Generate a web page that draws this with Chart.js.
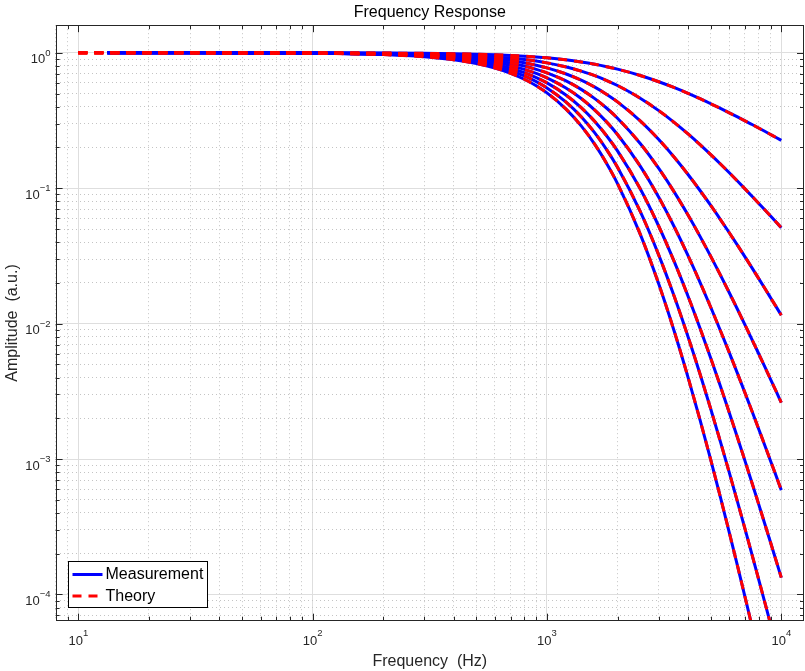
<!DOCTYPE html>
<html>
<head>
<meta charset="utf-8">
<script src="https://cdn.jsdelivr.net/npm/chart.js@4/dist/chart.umd.min.js"></script>
<style>
  html, body { margin: 0; padding: 0; background: #ffffff; }
  #wrap { width: 805px; height: 671px; }
</style>
</head>
<body>
<div id="wrap"><canvas id="c" width="805" height="671"></canvas></div>
<script>
// ---------------- data ----------------
const freqTheory = [10, 20, 50, 100, 200, 300, 400, 500, 600, 700, 800, 900, 1000, 1200, 1400, 1600, 1800, 2000, 2500, 3000, 3500, 4000, 4500, 5000, 5500, 6000, 6500, 7000, 7500, 8000, 8500, 9000, 9500, 10000];
const freqMeas   = [13.3, 20, 50, 100, 200, 300, 400, 500, 600, 700, 800, 900, 1000, 1200, 1400, 1600, 1800, 2000, 2500, 3000, 3500, 4000, 4500, 5000, 5500, 6000, 6500, 7000, 7500, 8000, 8500, 9000, 9500, 10000];

const amp1 = [1.000, 1.000, 0.9998, 0.9991, 0.9963, 0.9917, 0.9854, 0.9776, 0.9682, 0.9574, 0.9454, 0.9323, 0.9184, 0.8882, 0.8561, 0.8233, 0.7901, 0.7575, 0.6804, 0.6117, 0.5525, 0.5017, 0.4582, 0.4208, 0.3886, 0.3606, 0.3361, 0.3146, 0.2955, 0.2786, 0.2634, 0.2496, 0.2372, 0.2259];
const amp2 = [1.000, 1.000, 0.9995, 0.9981, 0.9926, 0.9835, 0.9711, 0.9556, 0.9374, 0.9166, 0.8937, 0.8692, 0.8434, 0.7889, 0.7331, 0.6777, 0.6242, 0.5737, 0.4627, 0.3742, 0.3053, 0.2517, 0.2100, 0.1772, 0.1511, 0.1301, 0.1130, 0.09897, 0.08733, 0.07758, 0.06935, 0.06231, 0.05627, 0.05105];
const amp3 = [1.000, 0.9999, 0.9993, 0.9972, 0.9890, 0.9754, 0.9570, 0.9342, 0.9076, 0.8776, 0.8449, 0.8104, 0.7745, 0.7007, 0.6276, 0.5579, 0.4932, 0.4345, 0.3148, 0.2289, 0.1686, 0.1263, 0.09623, 0.07459, 0.05870, 0.04690, 0.03798, 0.03113, 0.02581, 0.02161, 0.01826, 0.01555, 0.01335, 0.01154];
const amp4 = [1.000, 0.9999, 0.9991, 0.9963, 0.9853, 0.9673, 0.9431, 0.9132, 0.8787, 0.8402, 0.7988, 0.7556, 0.7113, 0.6224, 0.5374, 0.4593, 0.3897, 0.3292, 0.2141, 0.1400, 0.09318, 0.06335, 0.04409, 0.03139, 0.02282, 0.01692, 0.01277, 0.009796, 0.007627, 0.006018, 0.004806, 0.003882, 0.003168, 0.002608];
const amp5 = [1.000, 0.9998, 0.9989, 0.9954, 0.9817, 0.9593, 0.9293, 0.8927, 0.8507, 0.8044, 0.7551, 0.7045, 0.6532, 0.5528, 0.4601, 0.3781, 0.3079, 0.2493, 0.1456, 0.08566, 0.05148, 0.03179, 0.02020, 0.01321, 0.008868, 0.006104, 0.004292, 0.003082, 0.002254, 0.001676, 0.001266, 0.0009691, 0.0007515, 0.0005894];
const amp6 = [1.000, 0.9998, 0.9986, 0.9944, 0.9780, 0.9514, 0.9158, 0.8727, 0.8237, 0.7702, 0.7139, 0.6568, 0.5999, 0.4910, 0.3939, 0.3113, 0.2432, 0.1888, 0.09907, 0.05240, 0.02844, 0.01595, 0.009260, 0.005561, 0.003447, 0.002201, 0.001443, 0.0009695, 0.0006661, 0.0004668, 0.0003332, 0.0002419, 0.0001783, 0.0001332];
const amp7 = [1.000, 0.9997, 0.9984, 0.9935, 0.9744, 0.9435, 0.9025, 0.8531, 0.7975, 0.7374, 0.6749, 0.6124, 0.5509, 0.4361, 0.3373, 0.2563, 0.1922, 0.1430, 0.06740, 0.03206, 0.01571, 0.008003, 0.004243, 0.002340, 0.001339, 0.0007937, 0.0004851, 0.0003050, 0.0001968, 0.0001300, 0.0000877, 0.0000604, 0.0000423, 0.0000301];
const amp8 = [0.9999, 0.9997, 0.9982, 0.9926, 0.9708, 0.9357, 0.8894, 0.8340, 0.7721, 0.7060, 0.6380, 0.5709, 0.5059, 0.3874, 0.2887, 0.2110, 0.1518, 0.1083, 0.04585, 0.01961, 0.008684, 0.004016, 0.001944, 0.000985, 0.0005206, 0.0002862, 0.0001631, 0.0000960, 0.0000582, 0.0000362, 0.0000231, 0.0000151, 0.0000100, 0.0000068];

const curves = [amp1, amp2, amp3, amp4, amp5, amp6, amp7, amp8];

// tick labels: base "10" with an exponent written as superscript
const xMajorTicks = [10, 100, 1000, 10000];
const xTickExponents = ['1', '2', '3', '4'];
const yMajorTicks = [0.0001, 0.001, 0.01, 0.1, 1];
const yTickExponents = ['\u22124', '\u22123', '\u22122', '\u22121', '0'];
const tickBase = '10';

const xRange = [8, 12500];
const yRange = [6.4e-5, 1.6];

const seriesNames = ['Measurement', 'Theory'];
const titleText = 'Frequency Response';
const xTitle = 'Frequency  (Hz)';
const yTitle = 'Amplitude  (a.u.)';

// ---------------- helpers ----------------
const FONT = "'Liberation Sans', Arial, 'DejaVu Sans', sans-serif";
const BLUE = '#0000ff';
const RED = '#ff0000';
const DASH = [9, 7];

function logTicks(min, max) {
  const out = [];
  const e0 = Math.floor(Math.log10(min)), e1 = Math.ceil(Math.log10(max));
  for (let e = e0; e <= e1; e++) {
    for (let m = 1; m <= 9; m++) {
      const v = Number((m * Math.pow(10, e)).toPrecision(6));
      if (v >= min * 0.999999 && v <= max * 1.000001) out.push(v);
    }
  }
  return out;
}
function isMajorOf(v, majors) {
  return majors.some(mj => Math.abs(Math.log10(v) - Math.log10(mj)) < 1e-9);
}
function pts(xs, ys) { return xs.map((x, i) => ({ x: x, y: ys[i] })); }

// ---------------- datasets ----------------
const datasets = [];
curves.forEach((c, k) => {
  datasets.push({
    label: seriesNames[0] + ' ' + (k + 1),
    data: pts(freqMeas, c),
    borderColor: BLUE,
    borderWidth: 3,
    pointRadius: 0,
    fill: false,
    cubicInterpolationMode: 'monotone',
    order: 2
  });
});
curves.forEach((c, k) => {
  datasets.push({
    label: seriesNames[1] + ' ' + (k + 1),
    data: pts(freqTheory, c),
    borderColor: RED,
    borderWidth: 3,
    borderDash: DASH,
    pointRadius: 0,
    fill: false,
    cubicInterpolationMode: 'monotone',
    order: 1
  });
});

// ---------------- axes box, inward ticks, tick labels, legend ----------------
const matlabAxes = {
  id: 'matlabAxes',
  afterDatasetsDraw(chart) {
    const ctx = chart.ctx;
    const a = chart.chartArea;
    const xs = chart.scales.x, ys = chart.scales.y;
    ctx.save();
    ctx.strokeStyle = '#262626';
    ctx.lineWidth = 1;
    // inward ticks
    ctx.beginPath();
    xs.ticks.forEach(t => {
      const px = Math.round(xs.getPixelForValue(t.value)) + 0.5;
      const L = isMajorOf(t.value, xMajorTicks) ? 7 : 4;
      ctx.moveTo(px, a.bottom); ctx.lineTo(px, a.bottom - L);
      ctx.moveTo(px, a.top); ctx.lineTo(px, a.top + L);
    });
    ys.ticks.forEach(t => {
      const py = Math.round(ys.getPixelForValue(t.value)) + 0.5;
      const L = isMajorOf(t.value, yMajorTicks) ? 7 : 4;
      ctx.moveTo(a.left, py); ctx.lineTo(a.left + L, py);
      ctx.moveTo(a.right, py); ctx.lineTo(a.right - L, py);
    });
    ctx.stroke();
    // box
    ctx.strokeRect(Math.round(a.left) + 0.5, Math.round(a.top) + 0.5,
                   Math.round(a.right) - Math.round(a.left) - 1, Math.round(a.bottom) - Math.round(a.top) - 1);

    // tick labels 10^n
    const baseFont = '13px ' + FONT, expFont = '9.5px ' + FONT;
    ctx.fillStyle = '#262626';
    ctx.textBaseline = 'alphabetic';
    ctx.textAlign = 'left';
    xMajorTicks.forEach((v, i) => {
      const px = xs.getPixelForValue(v);
      ctx.font = baseFont; const wb = ctx.measureText(tickBase).width;
      ctx.font = expFont; const we = ctx.measureText(xTickExponents[i]).width;
      const left = px - (wb + we) / 2;
      ctx.font = baseFont; ctx.fillText(tickBase, left, a.bottom + 24.3);
      ctx.font = expFont; ctx.fillText(xTickExponents[i], left + wb, a.bottom + 15.5);
    });
    yMajorTicks.forEach((v, i) => {
      const py = ys.getPixelForValue(v);
      const right = a.left - 5;
      ctx.font = expFont; const we = ctx.measureText(yTickExponents[i]).width;
      ctx.font = baseFont; const wb = ctx.measureText(tickBase).width;
      ctx.font = baseFont; ctx.fillText(tickBase, right - we - wb, py + 10.5);
      ctx.font = expFont; ctx.fillText(yTickExponents[i], right - we, py + 3);
    });

    // legend (bottom-left inside axes)
    const lx = Math.round(a.left) + 12.5, lw = 139, lh = 46;
    const ly = Math.round(a.bottom) - 13.5 - lh;
    ctx.fillStyle = '#ffffff';
    ctx.fillRect(lx, ly, lw, lh);
    ctx.strokeStyle = '#000000';
    ctx.lineWidth = 1;
    ctx.strokeRect(lx, ly, lw, lh);
    const rowY = [ly + 13, ly + 34.5];
    ctx.lineWidth = 3;
    ctx.strokeStyle = BLUE;
    ctx.setLineDash([]);
    ctx.beginPath(); ctx.moveTo(lx + 4, rowY[0]); ctx.lineTo(lx + 34, rowY[0]); ctx.stroke();
    ctx.strokeStyle = RED;
    ctx.setLineDash(DASH);
    ctx.beginPath(); ctx.moveTo(lx + 4, rowY[1]); ctx.lineTo(lx + 34, rowY[1]); ctx.stroke();
    ctx.setLineDash([]);
    ctx.fillStyle = '#000000';
    ctx.font = '16px ' + FONT;
    ctx.textAlign = 'left';
    ctx.textBaseline = 'middle';
    ctx.fillText(seriesNames[0], lx + 37, rowY[0] + 0.5);
    ctx.fillText(seriesNames[1], lx + 37, rowY[1] + 0.5);
    ctx.restore();
  }
};

// ---------------- chart ----------------
const gridColor = (majors) => (c) => {
  if (!c.tick) return 'rgba(0,0,0,0)';
  return isMajorOf(c.tick.value, majors) ? '#dedede' : '#c4c4c4';
};
const gridDash = (majors) => (c) => {
  if (!c.tick) return [];
  return isMajorOf(c.tick.value, majors) ? [] : [1, 3];
};

new Chart(document.getElementById('c'), {
  type: 'line',
  data: { datasets: datasets },
  plugins: [matlabAxes],
  options: {
    responsive: false,
    animation: false,
    devicePixelRatio: 1,
    layout: { padding: { left: 0, right: 1, top: 0, bottom: 0 } },
    plugins: {
      legend: { display: false },
      tooltip: { enabled: false },
      title: {
        display: true,
        text: titleText,
        fullSize: false,
        color: '#000000',
        font: { family: FONT, size: 16, weight: 'normal' },
        padding: { top: 3, bottom: 3 }
      }
    },
    scales: {
      x: {
        type: 'logarithmic',
        min: xRange[0],
        max: xRange[1],
        afterBuildTicks: (s) => { s.ticks = logTicks(xRange[0], xRange[1]).map(v => ({ value: v, major: isMajorOf(v, xMajorTicks) })); },
        afterFit: (s) => { s.height = 50.3; },
        grid: { display: true, drawTicks: false, color: gridColor(xMajorTicks), lineWidth: 1 },
        border: { display: false, dash: gridDash(xMajorTicks) },
        ticks: { display: false, autoSkip: false },
        title: { display: true, text: xTitle, color: '#262626', font: { family: FONT, size: 16 }, padding: { top: 0, bottom: 0 } }
      },
      y: {
        type: 'logarithmic',
        min: yRange[0],
        max: yRange[1],
        afterBuildTicks: (s) => { s.ticks = logTicks(yRange[0], yRange[1]).map(v => ({ value: v, major: isMajorOf(v, yMajorTicks) })); },
        afterFit: (s) => { s.width = 55.6; },
        grid: { display: true, drawTicks: false, color: gridColor(yMajorTicks), lineWidth: 1 },
        border: { display: false, dash: gridDash(yMajorTicks) },
        ticks: { display: false, autoSkip: false },
        title: { display: true, text: yTitle, color: '#262626', font: { family: FONT, size: 16 }, padding: { top: 3, bottom: 0 } }
      }
    }
  }
});
</script>
</body>
</html>
